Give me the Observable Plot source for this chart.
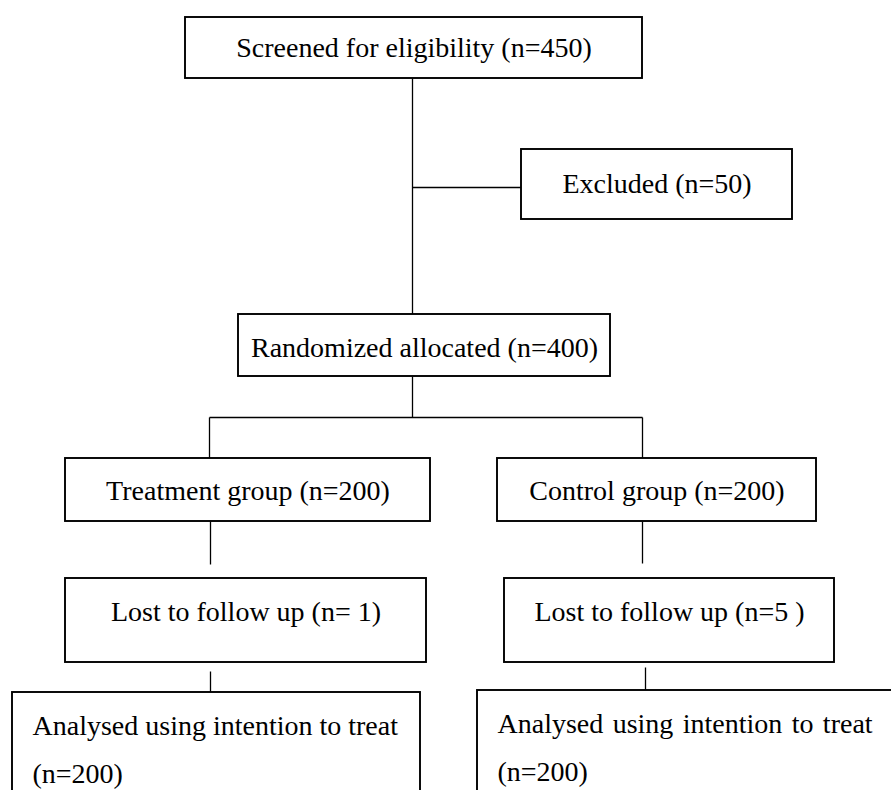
<!DOCTYPE html>
<html>
<head>
<meta charset="utf-8">
<script src="https://cdn.jsdelivr.net/npm/d3@7"></script>
<script src="https://cdn.jsdelivr.net/npm/@observablehq/plot@0.6"></script>
<style>
  html, body { margin: 0; padding: 0; background: #fff; }
  #chart svg { display: block; }
</style>
</head>
<body>
<div id="chart"></div>
<script>
// Flow stages (CONSORT-style diagram)
const stages = [
  "Screened for eligibility",
  "Excluded",
  "Randomized allocated",
  "Treatment group",
  "Control group",
  "Lost to follow up",
  "Lost to follow up",
  "Analysed using intention to treat",
  "Analysed using intention to treat"
];
const counts = [450, 50, 400, 200, 200, 1, 5, 200, 200];
const countLabels = ["(n=450)", "(n=50)", "(n=400)", "(n=200)", "(n=200)", "(n= 1)", "(n=5 )", "(n=200)", "(n=200)"];

// Layout of the diagram (pixel space of the diagram)
const boxLeft   = [185, 521, 238,  65, 497,  65, 504,  12, 477];
const boxRight  = [642, 792, 610, 430, 816, 426, 834, 420, 900];
const boxTop    = [ 17, 149, 314, 458, 458, 578, 578, 692, 690];
const boxBottom = [ 78, 219, 376, 521, 521, 662, 662, 800, 800];
const textMid   = [ 48, 184, 348, 491, 491, 612, 612, 726, 724];
const wrapped   = [false, false, false, false, false, false, false, true, true];

// Connectors: [x1, y1, x2, y2]
const connectors = [
  [412,  78, 412, 314],
  [412, 187, 521, 187],
  [412, 376, 412, 417],
  [209, 417, 642, 417],
  [209, 417, 209, 458],
  [642, 417, 642, 458],
  [210, 521, 210, 564],
  [642, 521, 642, 563],
  [210, 671, 210, 692],
  [645, 667, 645, 690]
];

const boxes = stages.map((s, i) => ({
  stage: s, n: counts[i],
  x1: boxLeft[i], x2: boxRight[i], y1: boxTop[i], y2: boxBottom[i]
}));

const links = connectors.map(([x1, y1, x2, y2]) => ({x1, y1, x2, y2}));

const centeredRows = [];
const startRows = [];
const justifiedRows = [];
stages.forEach((s, i) => {
  if (!wrapped[i]) {
    centeredRows.push({text: s + " " + countLabels[i], x: (boxLeft[i] + boxRight[i]) / 2, y: textMid[i]});
  } else {
    const row1 = {text: s, x: boxLeft[i] + 20, y: textMid[i]};
    const row2 = {text: countLabels[i], x: boxLeft[i] + 20, y: textMid[i] + 48};
    if (i === 8) justifiedRows.push(row1); else startRows.push(row1);
    startRows.push(row2);
  }
});

const font = "'Liberation Serif', 'Times New Roman', Times, serif";
const textOpts = {x: "x", y: "y", text: "text", fontSize: 28, fontFamily: font, fill: "#000", lineAnchor: "middle"};

const svg = Plot.plot({
  width: 891,
  height: 790,
  margin: 0,
  style: {background: "#fff", overflow: "hidden"},
  x: {domain: [0, 891], range: [0, 891], axis: null},
  y: {domain: [0, 790], range: [0, 790], axis: null},
  marks: [
    Plot.link(links, {x1: "x1", y1: "y1", x2: "x2", y2: "y2", stroke: "#000", strokeWidth: 1.3}),
    Plot.rect(boxes, {x1: "x1", x2: "x2", y1: "y1", y2: "y2", fill: "#fff", stroke: "#000", strokeWidth: 1.9, clip: true}),
    Plot.text(centeredRows, {...textOpts, textAnchor: "middle"}),
    Plot.text(startRows, {...textOpts, textAnchor: "start"}),
    Plot.text(justifiedRows, {...textOpts, textAnchor: "start", ariaDescription: "justified"})
  ]
});

// justified first line in the right-hand box (wider word spacing)
const marksG = d3.select(svg).selectAll(":scope > g").nodes();
d3.select(marksG[marksG.length - 1]).selectAll("text").style("word-spacing", "2.4px").attr("word-spacing", "2.4");
document.getElementById("chart").appendChild(svg);
</script>
</body>
</html>
